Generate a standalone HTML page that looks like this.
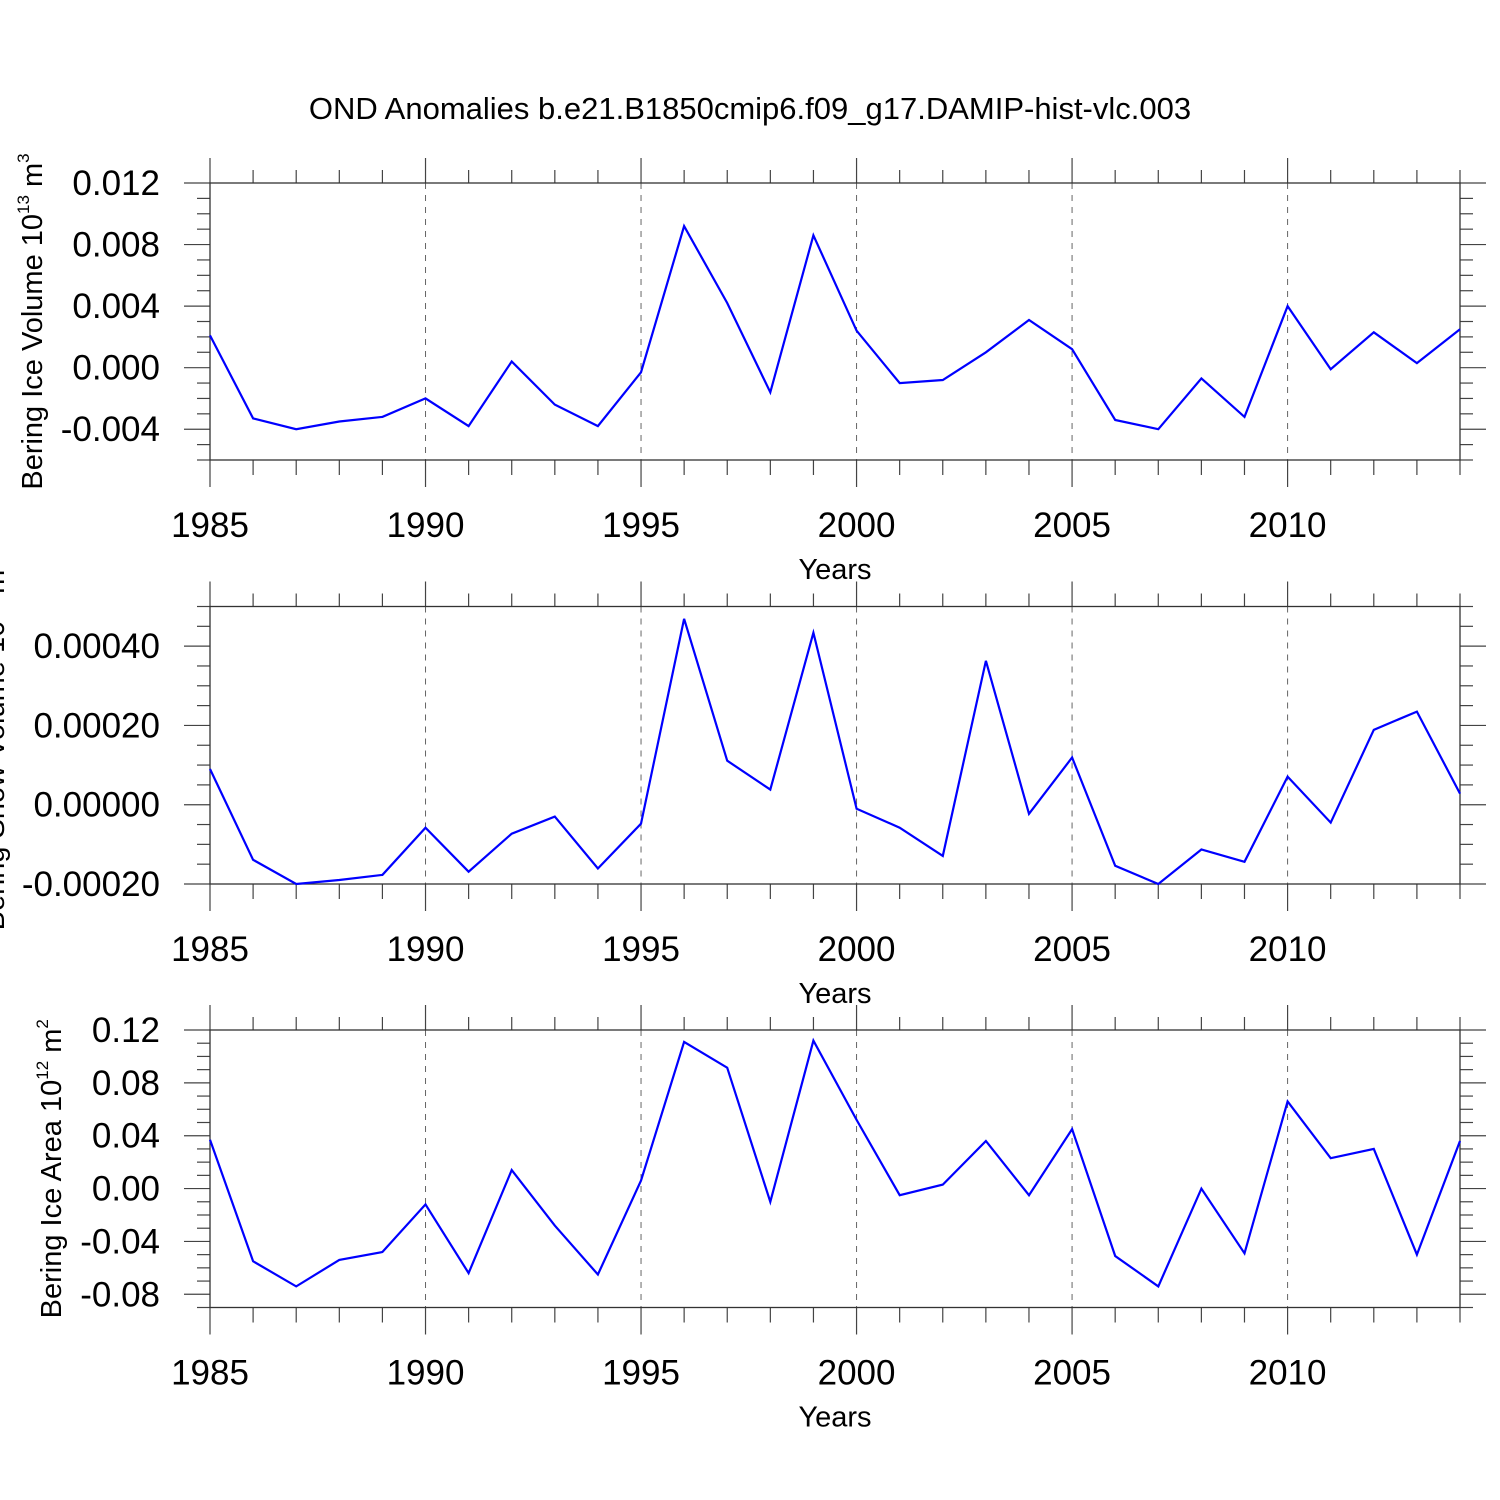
<!DOCTYPE html>
<html><head><meta charset="utf-8">
<style>html,body{margin:0;padding:0;background:#fff}svg{display:block}text{font-family:"Liberation Sans",Arial,sans-serif;fill:#000}</style>
</head><body>
<svg id="chart" width="1500" height="1500" viewBox="0 0 1500 1500" xmlns="http://www.w3.org/2000/svg">
<rect width="1500" height="1500" fill="#fff"/>
<text x="750" y="119" font-size="31" text-anchor="middle">OND Anomalies b.e21.B1850cmip6.f09_g17.DAMIP-hist-vlc.003</text>
</svg>
<script>
const years = [];
for (let y = 1985; y <= 2014; y++) years.push(y);
const iceVolume = [0.0021,-0.0033,-0.0040,-0.0035,-0.0032,-0.0020,-0.0038,0.0004,-0.0024,-0.0038,-0.0003,0.0092,0.0042,-0.0016,0.0086,0.0024,-0.0010,-0.0008,0.0010,0.0031,0.0012,-0.0034,-0.0040,-0.0007,-0.0032,0.0040,-0.0001,0.0023,0.0003,0.0025];
const snowVolume = [0.00009,-0.000139,-0.0002,-0.00019,-0.000177,-0.000058,-0.000169,-0.000073,-0.00003,-0.000161,-0.000048,0.000469,0.000111,0.000038,0.000434,-0.00001,-0.000058,-0.000129,0.000363,-0.000023,0.000119,-0.000154,-0.0002,-0.000113,-0.000144,0.000071,-0.000045,0.000189,0.000235,0.000028];
const iceArea = [0.037,-0.055,-0.074,-0.054,-0.048,-0.012,-0.064,0.014,-0.028,-0.065,0.006,0.111,0.0915,-0.010,0.112,0.052,-0.005,0.003,0.036,-0.005,0.045,-0.051,-0.074,0.000,-0.049,0.066,0.023,0.030,-0.050,0.036];
const xTickLabels = ["1985","1990","1995","2000","2005","2010"];
const yTicks1 = ["0.012","0.008","0.004","0.000","-0.004"];
const yTicks2 = ["0.00040","0.00020","0.00000","-0.00020"];
const yTicks3 = ["0.12","0.08","0.04","0.00","-0.04","-0.08"];

const NS = "http://www.w3.org/2000/svg";
const svg = document.getElementById('chart');
function mk(tag, attrs, parent) {
  const e = document.createElementNS(NS, tag);
  for (const k in attrs) e.setAttribute(k, attrs[k]);
  (parent || svg).appendChild(e);
  return e;
}
const X0 = 210, X1 = 1460;
const xs = yr => X0 + (yr - 1985) * (X1 - X0) / 29;

const panels = [
  {name:'ice-volume', top:183, bot:460, ymin:-0.006, ymax:0.012, minorStep:0.001, data:iceVolume, ticks:yTicks1, label:'Bering Ice Volume 10', sup:'13', unit:' m', usup:'3', labelX:42},
  {name:'snow-volume', top:606.5, bot:884, ymin:-0.0002, ymax:0.0005, minorStep:0.00005, data:snowVolume, ticks:yTicks2, label:'Bering Snow Volume 10', sup:'13', unit:' m', usup:'3', labelX:4},
  {name:'ice-area', top:1030, bot:1307.5, ymin:-0.09, ymax:0.12, minorStep:0.01, data:iceArea, ticks:yTicks3, label:'Bering Ice Area 10', sup:'12', unit:' m', usup:'2', labelX:61}
];

panels.forEach(p => {
  const g = mk('g', {});
  
  
  const ys = v => p.bot - (v - p.ymin) / (p.ymax - p.ymin) * (p.bot - p.top);
  years.forEach(yr => {
    if (yr % 5 === 0 && yr > 1985 && yr < 2014) {
      const l = mk('line', {x1:xs(yr), x2:xs(yr), y1:p.top, y2:p.bot, stroke:'#666', 'stroke-width':1, 'stroke-dasharray':'6,6'}, g);
      
      
    }
  });
  years.forEach(yr => {
    const major = yr % 5 === 0;
    const len = major ? 25 : 13;
    mk('line', {x1:xs(yr), x2:xs(yr), y1:p.top - len, y2:p.top, stroke:'#444', 'stroke-width':1.2}, g);
    mk('line', {x1:xs(yr), x2:xs(yr), y1:p.bot, y2:p.bot + len + 2, stroke:'#444', 'stroke-width':1.2}, g);
  });
  const n = Math.round((p.ymax - p.ymin) / p.minorStep);
  const tickVals = p.ticks.map(Number);
  for (let i = 0; i <= n; i++) {
    const v = p.ymin + i * p.minorStep;
    const major = tickVals.some(t => Math.abs(t - v) < p.minorStep / 10);
    const len = major ? 26 : 13;
    const y = ys(v);
    mk('line', {x1:X0 - len, x2:X0, y1:y, y2:y, stroke:'#444', 'stroke-width':1.2}, g);
    mk('line', {x1:X1, x2:X1 + len, y1:y, y2:y, stroke:'#444', 'stroke-width':1.2}, g);
  }
  const fr = mk('rect', {x:X0, y:p.top, width:X1 - X0, height:p.bot - p.top, fill:'none', stroke:'#333', 'stroke-width':1.3}, g);
  
  
  p.ticks.forEach(t => {
    const tx = mk('text', {x:160, y:ys(Number(t)) + 12, 'font-size':35, 'text-anchor':'end'}, g);
    
    
    tx.textContent = t;
  });
  xTickLabels.forEach(t => {
    const tx = mk('text', {x:xs(Number(t)), y:p.bot + 77, 'font-size':35, 'text-anchor':'middle'}, g);
    
    
    tx.textContent = t;
  });
  const xt = mk('text', {x:835, y:p.bot + 119, 'font-size':29, 'text-anchor':'middle'}, g);
  
  
  xt.textContent = 'Years';
  const cy = (p.top + p.bot) / 2;
  const yl = mk('text', {transform:`translate(${p.labelX},${cy}) rotate(-90)`, 'font-size':29, 'text-anchor':'middle'}, g);
  
  
  const s1 = mk('tspan', {}, yl); s1.textContent = p.label;
  const s2 = mk('tspan', {'font-size':17, dy:-13}, yl); s2.textContent = p.sup;
  const s3 = mk('tspan', {dy:13}, yl); s3.textContent = p.unit;
  const s4 = mk('tspan', {'font-size':17, dy:-13}, yl); s4.textContent = p.usup;
  const pts = p.data.map((v, i) => xs(years[i]).toFixed(1) + ',' + ys(v).toFixed(1)).join(' ');
  const pl = mk('polyline', {points:pts, fill:'none', stroke:'#0000ff', 'stroke-width':2.2, 'stroke-linejoin':'miter'}, g);
  
  
});
</script>
</body></html>
